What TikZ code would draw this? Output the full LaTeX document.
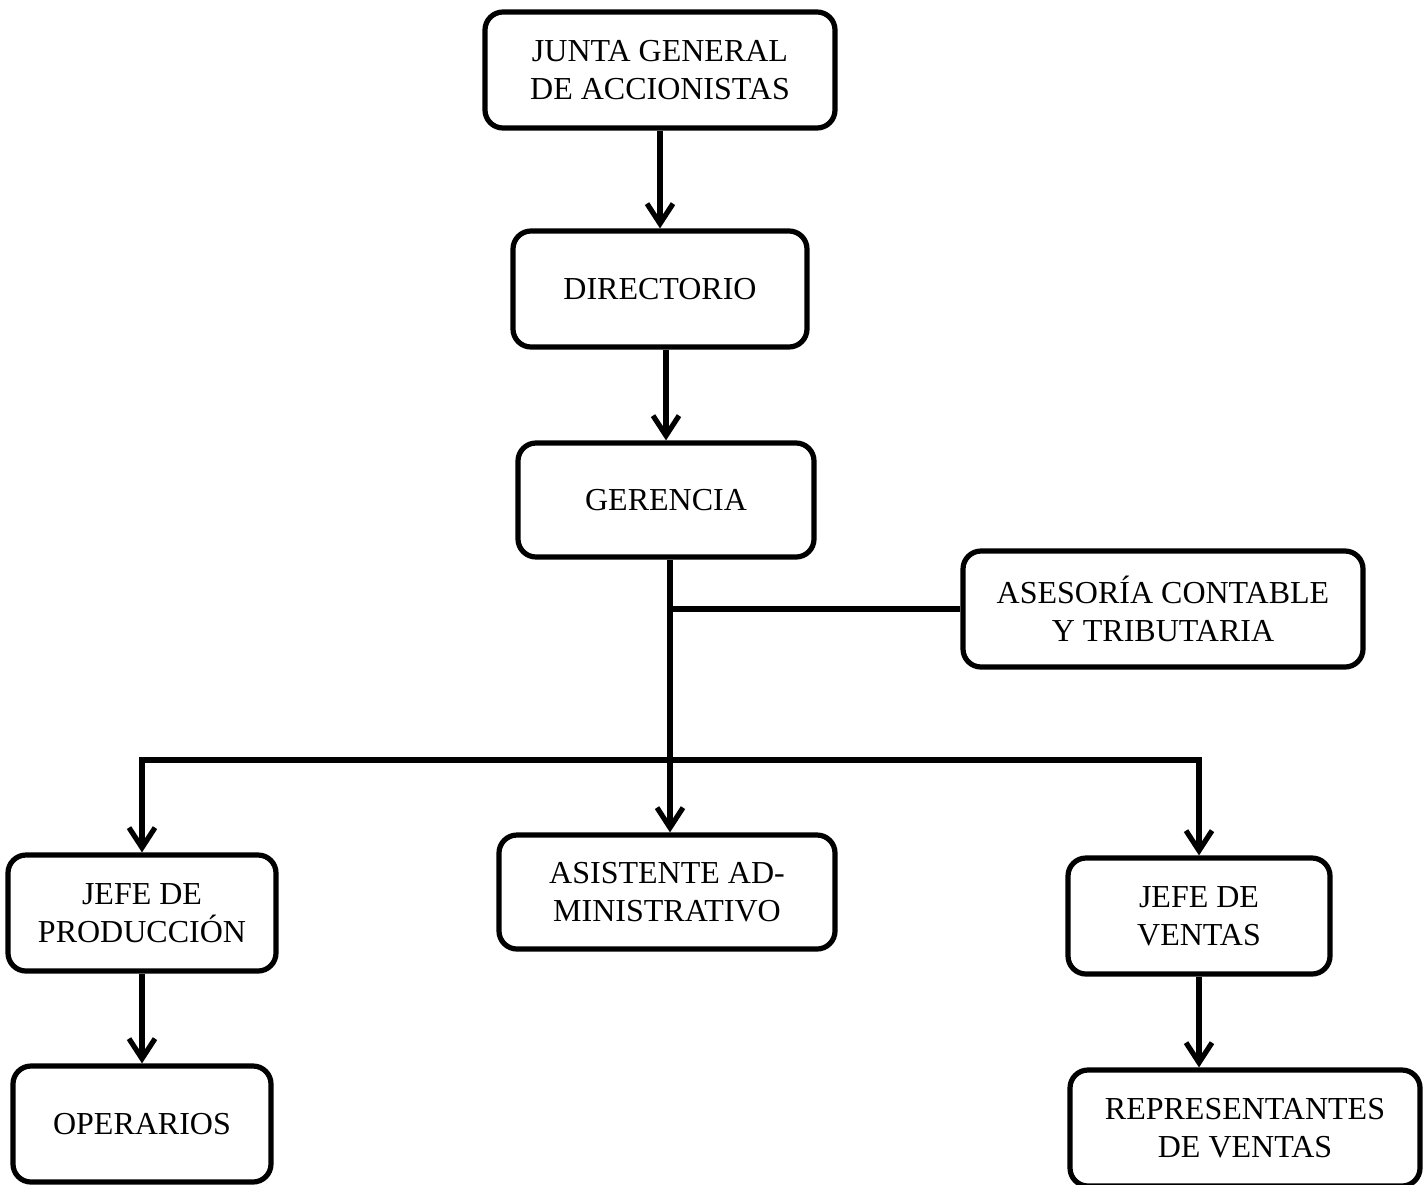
\documentclass[tikz,border=0pt]{standalone}
\usepackage{fontspec}
\setmainfont{Liberation Serif}
\usetikzlibrary{arrows.meta}
\begin{document}
\begin{tikzpicture}[x=0.5pt,y=-0.5pt,
  box/.style={draw,line width=2.6pt,rounded corners=9pt,align=center,
    font=\fontsize{16}{19}\selectfont,inner sep=2pt},
  link/.style={line width=2.6pt},
  barb/.tip={Straight Barb[length=10pt,width=13pt,line width=2.6pt]},
  arr/.style={link,-barb}]
\useasboundingbox (0,0) rectangle (1428,1184);

% Boxes
\node[box,minimum width=175pt,minimum height=58pt] (junta) at (660,70) {JUNTA GENERAL\\DE ACCIONISTAS};
\node[box,minimum width=147pt,minimum height=58pt] (dir) at (660,289) {DIRECTORIO};
\node[box,minimum width=148pt,minimum height=57pt] (ger) at (666,500) {GERENCIA};
\node[box,minimum width=200pt,minimum height=58pt] (ases) at (1163,609) {ASESORÍA CONTABLE\\Y TRIBUTARIA};
\node[box,minimum width=134pt,minimum height=58pt] (jp) at (142,913) {JEFE DE\\PRODUCCIÓN};
\node[box,minimum width=168pt,minimum height=57pt] (asis) at (667,892) {ASISTENTE AD-\\MINISTRATIVO};
\node[box,minimum width=131pt,minimum height=58pt] (jv) at (1199,916) {JEFE DE\\VENTAS};
\node[box,minimum width=129pt,minimum height=58pt] (oper) at (142,1124) {OPERARIOS};
\node[box,minimum width=175pt,minimum height=58pt] (rep) at (1245,1128) {REPRESENTANTES\\DE VENTAS};

% Chain of command
\draw[arr] (junta.south) -- (dir.north);
\draw[arr] (dir.south -| ger) -- (ger.north);
\coordinate (trunk) at ([xshift=2]ger.south);
\draw[arr] (trunk) -- (trunk |- asis.north);
\draw[link] (trunk |- ases.west) -- (ases.west);

% Distribution bar to the departments
\coordinate (bar) at (666,760);
\draw[link,barb-barb,line join=miter] (jp.north) -- (bar -| jp) -- (bar -| jv) -- (jv.north);
\draw[arr] (jp.south) -- (oper.north);
\draw[arr] (jv.south) -- (jv.south |- rep.north);
\end{tikzpicture}
\end{document}
